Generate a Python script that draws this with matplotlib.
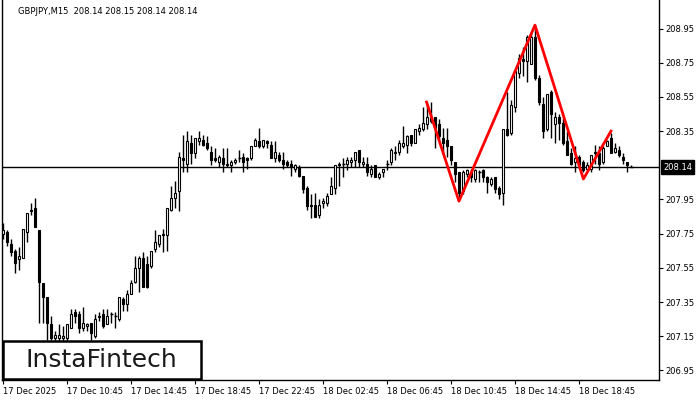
import matplotlib
matplotlib.use('Agg')
import matplotlib.pyplot as plt
from matplotlib.patches import Rectangle
import matplotlib.transforms as mtransforms

# GBPJPY M15 candles (index 0 = 17 Dec 2025 00:00)
opens = [207.75, 207.76, 207.69, 207.65, 207.60, 207.61, 207.76, 207.89, 207.90, 207.77,
         207.46, 207.38, 207.22, 207.14, 207.14, 207.14, 207.14, 207.20, 207.29, 207.28,
         207.20, 207.21, 207.23, 207.15, 207.26, 207.28, 207.22, 207.28, 207.27, 207.25,
         207.37, 207.34, 207.40, 207.47, 207.55, 207.61, 207.57, 207.56, 207.66, 207.69,
         207.74, 207.74, 207.89, 207.96, 208.00, 208.19, 208.16, 208.28, 208.22, 208.29,
         208.30, 208.28, 208.23, 208.19, 208.17, 208.19, 208.16, 208.15, 208.17, 208.19,
         208.20, 208.19, 208.19, 208.26, 208.29, 208.26, 208.29, 208.27, 208.19, 208.21,
         208.18, 208.17, 208.16, 208.13, 208.14, 208.09, 208.02, 207.92, 207.92, 207.86,
         207.93, 207.93, 207.98, 208.02, 208.16, 208.16, 208.16, 208.17, 208.18, 208.24,
         208.16, 208.16, 208.10, 208.15, 208.08, 208.11, 208.16, 208.17, 208.22, 208.23,
         208.26, 208.27, 208.33, 208.28, 208.35, 208.36, 208.39, 208.43, 208.43, 208.39,
         208.31, 208.30, 208.26, 208.17, 208.11, 208.00, 208.10, 208.11, 208.07, 208.11,
         208.12, 208.08, 208.04, 208.08, 208.02, 207.99, 208.36, 208.34, 208.49, 208.69,
         208.77, 208.76, 208.74, 208.90, 208.66, 208.51, 208.36, 208.58, 208.39, 208.43,
         208.40, 208.29, 208.22, 208.17, 208.20, 208.17, 208.13, 208.13, 208.22, 208.22,
         208.17, 208.26, 208.31, 208.23, 208.24, 208.20, 208.17, 208.14]
highs = [207.81, 207.77, 207.72, 207.66, 207.67, 207.78, 207.87, 207.93, 207.96, 207.77,
         207.46, 207.38, 207.27, 207.18, 207.22, 207.21, 207.22, 207.31, 207.31, 207.30,
         207.32, 207.23, 207.23, 207.28, 207.29, 207.31, 207.31, 207.29, 207.29, 207.38,
         207.38, 207.42, 207.48, 207.62, 207.62, 207.64, 207.62, 207.65, 207.77, 207.74,
         207.78, 207.90, 208.03, 208.06, 208.23, 208.33, 208.35, 208.33, 208.31, 208.35,
         208.33, 208.32, 208.26, 208.25, 208.21, 208.25, 208.25, 208.18, 208.19, 208.24,
         208.22, 208.20, 208.26, 208.31, 208.37, 208.30, 208.30, 208.29, 208.29, 208.23,
         208.23, 208.18, 208.18, 208.16, 208.15, 208.09, 208.03, 207.98, 207.99, 207.95,
         207.96, 207.99, 208.08, 208.15, 208.17, 208.19, 208.20, 208.20, 208.23, 208.24,
         208.20, 208.20, 208.15, 208.15, 208.11, 208.13, 208.18, 208.25, 208.26, 208.30,
         208.38, 208.33, 208.33, 208.36, 208.39, 208.49, 208.50, 208.52, 208.43, 208.42,
         208.37, 208.37, 208.26, 208.17, 208.11, 208.12, 208.13, 208.13, 208.13, 208.12,
         208.13, 208.09, 208.08, 208.08, 208.03, 208.36, 208.58, 208.53, 208.70, 208.80,
         208.84, 208.91, 208.93, 208.97, 208.68, 208.55, 208.57, 208.59, 208.46, 208.45,
         208.43, 208.35, 208.25, 208.26, 208.21, 208.18, 208.17, 208.21, 208.27, 208.26,
         208.26, 208.30, 208.34, 208.28, 208.26, 208.22, 208.17, 208.15]
lows = [207.72, 207.68, 207.62, 207.52, 207.54, 207.61, 207.70, 207.86, 207.79, 207.23,
        207.23, 207.13, 207.13, 207.10, 207.11, 207.11, 207.11, 207.20, 207.23, 207.17,
        207.18, 207.18, 207.13, 207.14, 207.24, 207.20, 207.22, 207.23, 207.20, 207.24,
        207.30, 207.30, 207.40, 207.46, 207.41, 207.44, 207.43, 207.55, 207.64, 207.67,
        207.64, 207.65, 207.88, 207.90, 207.88, 208.11, 208.11, 208.16, 208.19, 208.27,
        208.26, 208.24, 208.15, 208.17, 208.14, 208.11, 208.14, 208.11, 208.16, 208.17,
        208.11, 208.13, 208.18, 208.26, 208.25, 208.25, 208.25, 208.19, 208.17, 208.17,
        208.13, 208.14, 208.09, 208.11, 208.08, 207.99, 207.89, 207.84, 207.85, 207.84,
        207.90, 207.91, 207.98, 207.98, 208.03, 208.08, 208.12, 208.14, 208.14, 208.14,
        208.14, 208.09, 208.08, 208.08, 208.07, 208.08, 208.12, 208.15, 208.18, 208.21,
        208.25, 208.22, 208.26, 208.28, 208.33, 208.35, 208.36, 208.40, 208.25, 208.30,
        208.22, 208.20, 208.15, 208.05, 207.96, 207.98, 208.08, 208.05, 208.05, 208.05,
        208.05, 207.99, 208.03, 207.99, 207.95, 207.92, 208.32, 208.33, 208.46, 208.66,
        208.67, 208.64, 208.74, 208.65, 208.50, 208.31, 208.35, 208.31, 208.28, 208.30,
        208.27, 208.21, 208.15, 208.11, 208.13, 208.11, 208.12, 208.11, 208.16, 208.12,
        208.16, 208.26, 208.22, 208.22, 208.20, 208.16, 208.11, 208.14]
closes = [207.77, 207.70, 207.64, 207.58, 207.62, 207.78, 207.87, 207.88, 207.79, 207.47,
          207.38, 207.23, 207.14, 207.16, 207.16, 207.15, 207.22, 207.28, 207.27, 207.20,
          207.23, 207.22, 207.17, 207.25, 207.27, 207.21, 207.27, 207.28, 207.27, 207.38,
          207.34, 207.40, 207.46, 207.55, 207.61, 207.44, 207.44, 207.65, 207.70, 207.74,
          207.75, 207.90, 207.96, 207.99, 208.20, 208.18, 208.29, 208.22, 208.31, 208.31,
          208.27, 208.25, 208.18, 208.18, 208.20, 208.16, 208.15, 208.17, 208.18, 208.19,
          208.17, 208.18, 208.26, 208.30, 208.26, 208.30, 208.28, 208.19, 208.23, 208.18,
          208.16, 208.15, 208.14, 208.15, 208.09, 208.01, 207.91, 207.91, 207.85, 207.92,
          207.94, 207.97, 208.03, 208.15, 208.15, 208.16, 208.18, 208.18, 208.23, 208.17,
          208.17, 208.11, 208.13, 208.08, 208.10, 208.13, 208.16, 208.24, 208.23, 208.28,
          208.28, 208.32, 208.28, 208.36, 208.37, 208.40, 208.43, 208.41, 208.37, 208.32,
          208.28, 208.26, 208.18, 208.10, 207.99, 208.11, 208.12, 208.08, 208.12, 208.11,
          208.08, 208.05, 208.07, 208.01, 207.98, 208.36, 208.33, 208.50, 208.70, 208.78,
          208.76, 208.90, 208.90, 208.66, 208.52, 208.35, 208.57, 208.45, 208.43, 208.40,
          208.28, 208.21, 208.16, 208.19, 208.15, 208.12, 208.15, 208.21, 208.23, 208.16,
          208.25, 208.29, 208.22, 208.25, 208.21, 208.18, 208.15, 208.14]

# head & shoulders outline (bar position, price)
pattern_x = [105.8, 113.9, 132.9, 145.0, 151.9]
pattern_y = [208.52, 207.94, 208.97, 208.07, 208.35]

last_price = 208.14
# 208.15 is hidden behind the current-price tag in the reference
ytick_vals = [206.95, 207.15, 207.35, 207.55, 207.75, 207.95, 208.35, 208.55, 208.75, 208.95]
ytick_labels = ['206.95', '207.15', '207.35', '207.55', '207.75', '207.95',
                '208.35', '208.55', '208.75', '208.95']
xtick_pos = [0, 16, 32, 48, 64, 80, 96, 112, 128, 144]
xtick_labels = ['17 Dec 2025', '17 Dec 10:45', '17 Dec 14:45', '17 Dec 18:45', '17 Dec 22:45',
                '18 Dec 02:45', '18 Dec 06:45', '18 Dec 10:45', '18 Dec 14:45', '18 Dec 18:45']

fig = plt.figure(figsize=(7, 4), dpi=100)
ax = fig.add_axes([2 / 700, 20 / 400, 657 / 700, 380 / 400])

n = len(opens)
xs = list(range(n))
ax.vlines(xs, lows, highs, color='black', linewidth=1, zorder=2)
for i in xs:
    o, c = opens[i], closes[i]
    if abs(c - o) < 0.005:
        ax.hlines(o, i - 0.4, i + 0.4, color='black', linewidth=1, zorder=3)
    else:
        face = 'white' if c > o else 'black'
        ax.bar(i, abs(c - o), bottom=min(o, c), width=0.55, color=face,
               edgecolor='black', linewidth=0.8, zorder=3)

ax.axhline(last_price, color='black', linewidth=1, zorder=1)
ax.plot(pattern_x, pattern_y, color='#ff0000', linewidth=2, zorder=4)

ax.set_xlim(-0.325, 163.9)
ax.set_ylim(206.894, 209.117)

ax.yaxis.tick_right()
ax.set_yticks(ytick_vals)
ax.set_yticklabels(ytick_labels)
ax.tick_params(axis='y', direction='out', length=3, width=0.8, pad=1.5,
               labelsize=6, colors='black')
ax.set_xticks(xtick_pos)
ax.set_xticklabels(xtick_labels, ha='left')
ax.tick_params(axis='x', direction='out', length=3, width=0.8, pad=2,
               labelsize=6, colors='black')
ax.spines['top'].set_visible(False)
for s in ('left', 'right', 'bottom'):
    ax.spines[s].set_linewidth(1)
    ax.spines[s].set_color('black')

# current price tag on the price scale
trans = mtransforms.blended_transform_factory(ax.transAxes, ax.transData)
ax.text(1.006, last_price, f'{last_price:.2f}', transform=trans, ha='left', va='center',
        fontsize=6, color='white', clip_on=False,
        bbox=dict(boxstyle='square,pad=0.25', fc='black', ec='black'))

fig.text(18 / 700, 1 - 11 / 400, 'GBPJPY,M15  208.14 208.15 208.14 208.14',
         fontsize=6, color='black', va='center', ha='left')

# logo box
fig.patches.append(Rectangle((3 / 700, 21 / 400), 198 / 700, 38 / 400, transform=fig.transFigure,
                             facecolor='white', edgecolor='black', linewidth=1.8, zorder=10))
fig.text(101 / 700, 1 - 360 / 400, 'InstaFintech', family='DejaVu Sans', fontsize=18,
         color='#1a1a1a', ha='center', va='center', zorder=11)

fig.savefig('out.png', facecolor='white')
